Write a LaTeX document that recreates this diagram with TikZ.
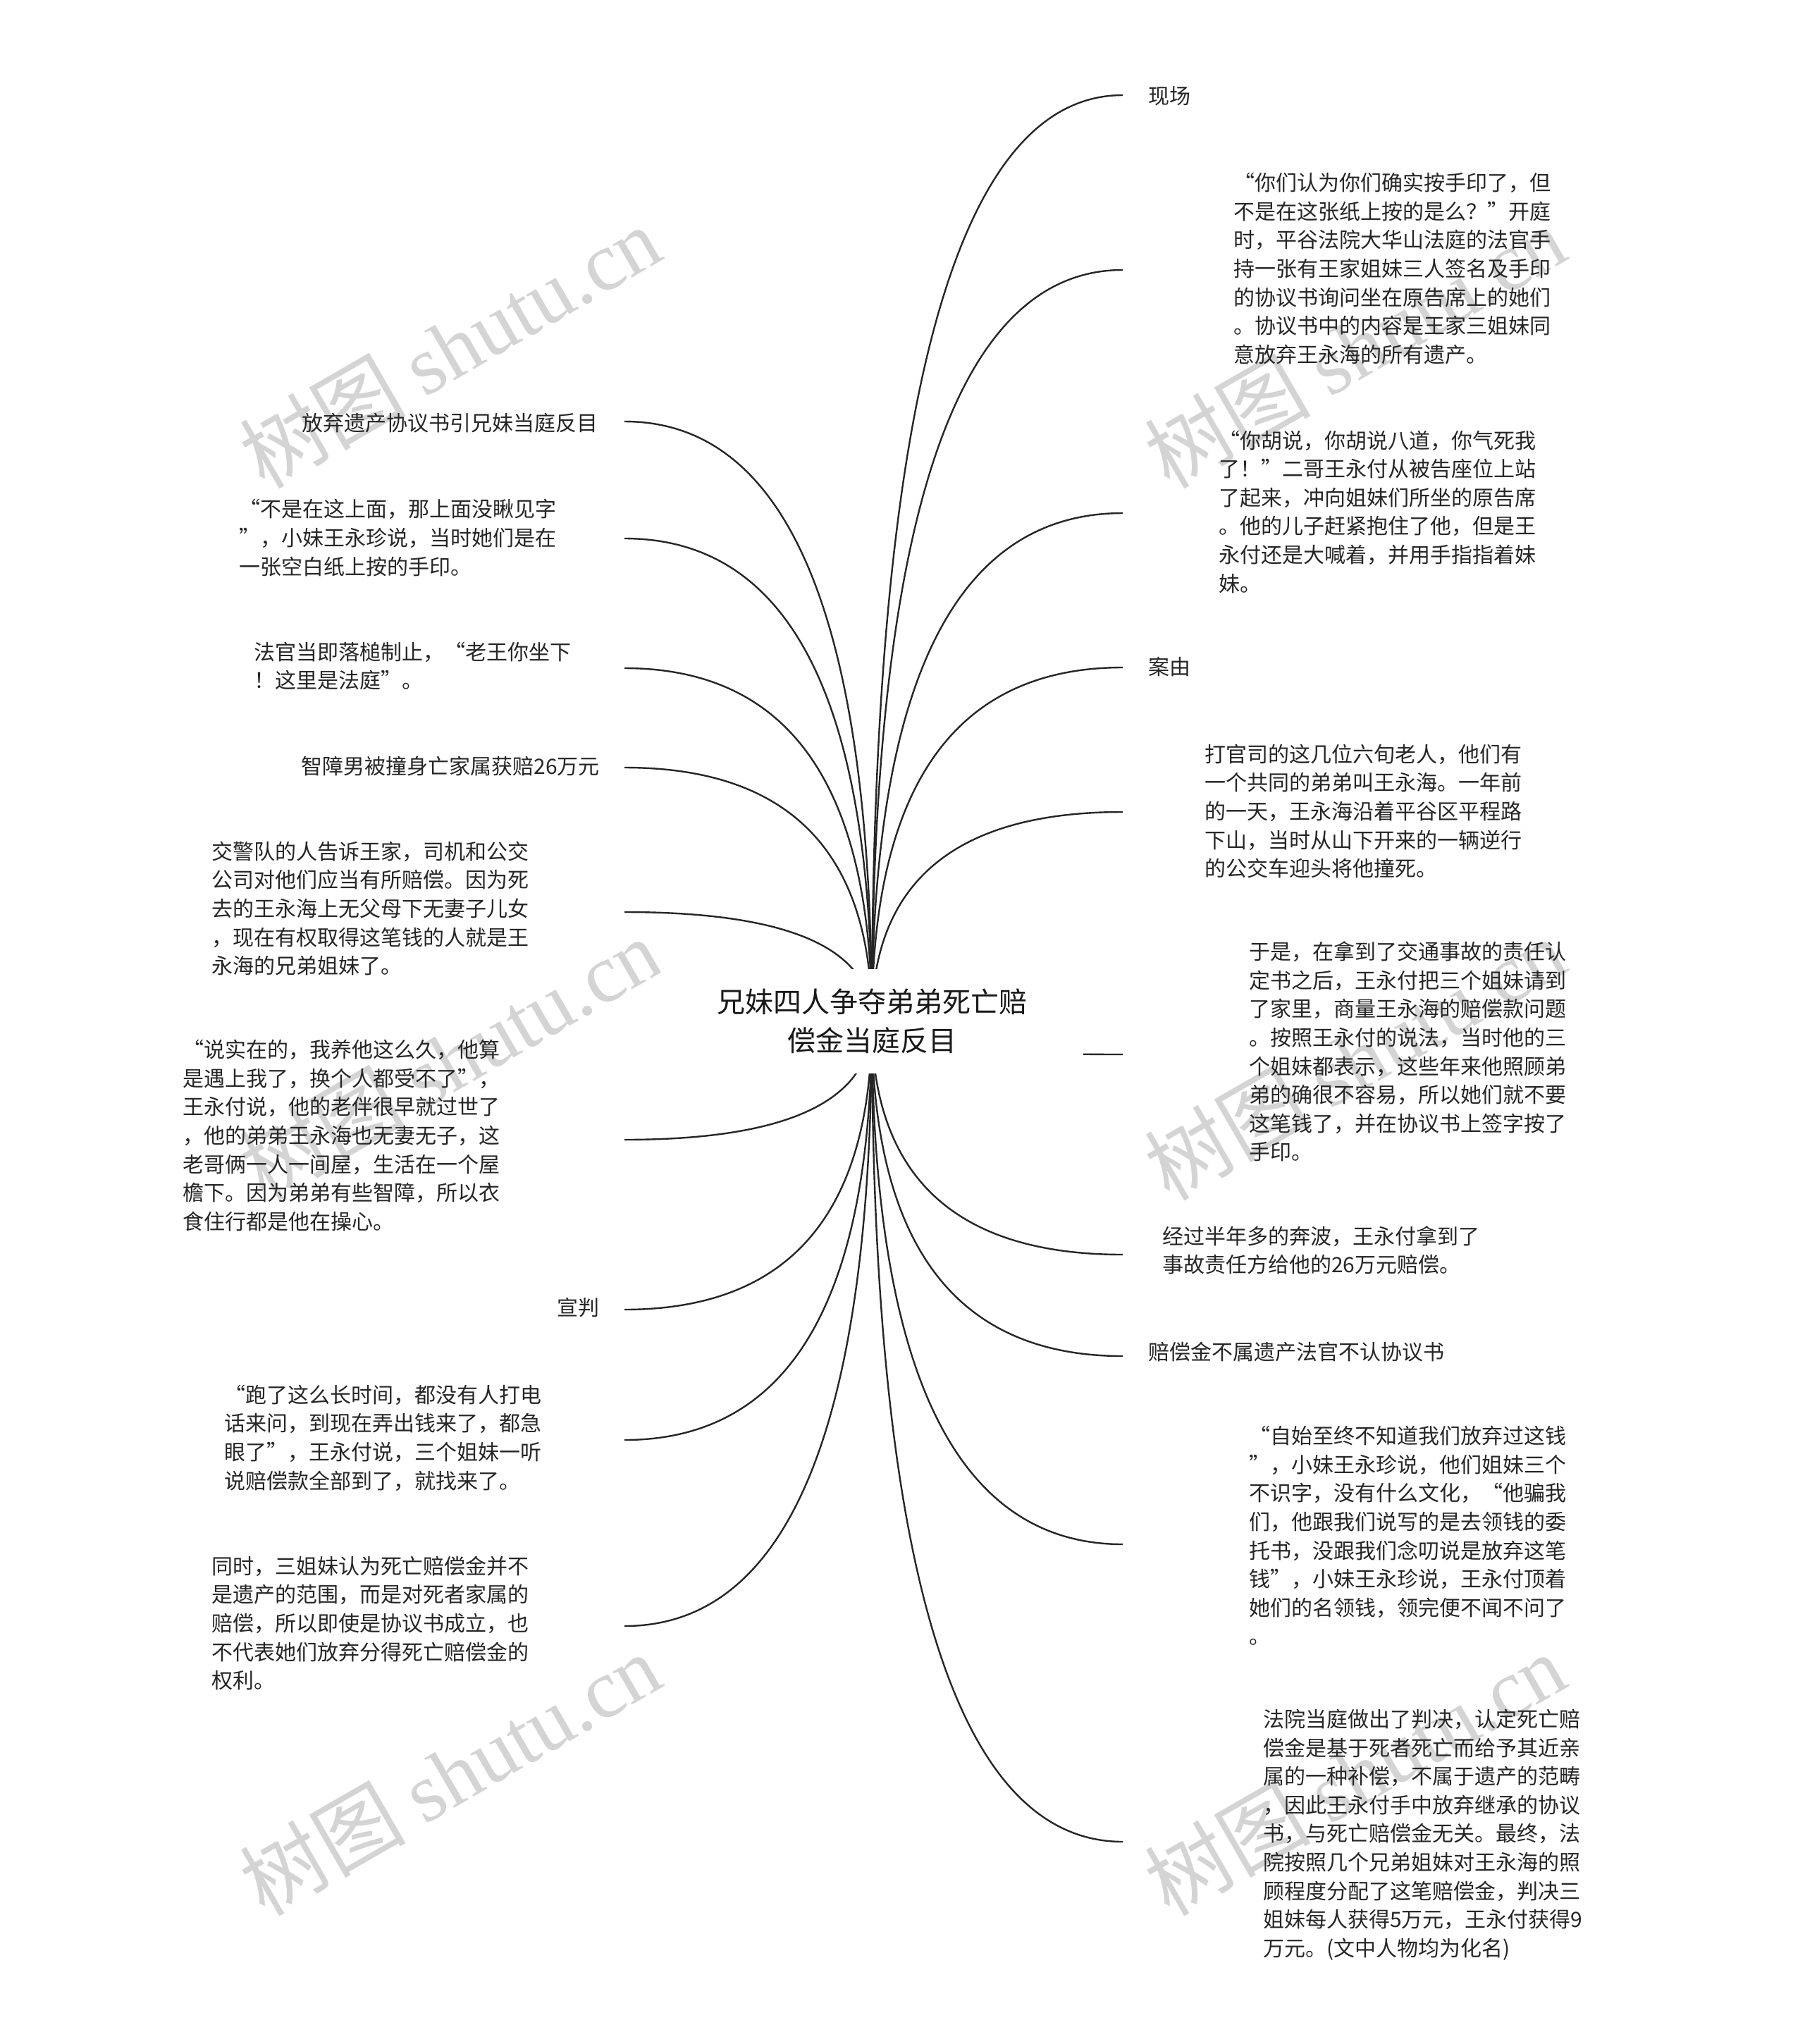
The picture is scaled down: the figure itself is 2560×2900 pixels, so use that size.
\documentclass[tikz,border=0pt]{standalone}
\usepackage{fontspec}
\setmainfont{Noto Sans CJK SC}
\newfontfamily\wmlatin{Liberation Serif}
\usetikzlibrary{calc}
\pgfdeclarelayer{bg}
\pgfsetlayers{bg,main}
\begin{document}
\begin{tikzpicture}[x=1pt,y=-1pt,
  txt/.style={inner sep=0pt, align=left, text=black!85, font=\fontsize{30}{40.6}\selectfont},
  rootbox/.style={inner sep=0pt, align=center, text=black!90, fill=white, minimum width=600pt, minimum height=148pt, font=\fontsize{40}{55}\selectfont},
  conn/.style={line width=2.4pt, draw=black!85},
  wm/.style={text=black!17, rotate=30, inner sep=0pt, font=\fontsize{118}{120}\selectfont}]
\useasboundingbox (0,0) rectangle (2560,2900);

% root
\node[rootbox] (root) at (1237,1449) {兄妹四人争夺弟弟死亡赔\\偿金当庭反目};

% connector end points
\coordinate (r1) at (1593,135);
\coordinate (r2) at (1593,383);
\coordinate (r3) at (1593,728);
\coordinate (r4) at (1593,947);
\coordinate (r5) at (1593,1152);
\coordinate (r6) at (1593,1496);
\coordinate (r7) at (1593,1780);
\coordinate (r8) at (1593,1924);
\coordinate (r9) at (1593,2191);
\coordinate (r10) at (1593,2613);
\coordinate (l1) at (886,598);
\coordinate (l2) at (886,764);
\coordinate (l3) at (886,948);
\coordinate (l4) at (886,1089);
\coordinate (l5) at (886,1294);
\coordinate (l6) at (886,1617);
\coordinate (l7) at (886,1858);
\coordinate (l8) at (886,2043);
\coordinate (l9) at (886,2307);

% right side texts
\node[txt, anchor=west] (t-r1) at (1629,136) {现场};
\node[txt, anchor=west] (t-r2) at (1750,381) {“你们认为你们确实按手印了，但\\不是在这张纸上按的是么？”开庭\\时，平谷法院大华山法庭的法官手\\持一张有王家姐妹三人签名及手印\\的协议书询问坐在原告席上的她们\\。协议书中的内容是王家三姐妹同\\意放弃王永海的所有遗产。};
\node[txt, anchor=west] (t-r3) at (1729,726) {“你胡说，你胡说八道，你气死我\\了！”二哥王永付从被告座位上站\\了起来，冲向姐妹们所坐的原告席\\。他的儿子赶紧抱住了他，但是王\\永付还是大喊着，并用手指指着妹\\妹。};
\node[txt, anchor=west] (t-r4) at (1629,946) {案由};
\node[txt, anchor=west] (t-r5) at (1709,1151) {打官司的这几位六旬老人，他们有\\一个共同的弟弟叫王永海。一年前\\的一天，王永海沿着平谷区平程路\\下山，当时从山下开来的一辆逆行\\的公交车迎头将他撞死。};
\node[txt, anchor=west] (t-r6) at (1772,1492) {于是，在拿到了交通事故的责任认\\定书之后，王永付把三个姐妹请到\\了家里，商量王永海的赔偿款问题\\。按照王永付的说法，当时他的三\\个姐妹都表示，这些年来他照顾弟\\弟的确很不容易，所以她们就不要\\这笔钱了，并在协议书上签字按了\\手印。};
\node[txt, anchor=west] (t-r7) at (1649,1774) {经过半年多的奔波，王永付拿到了\\事故责任方给他的26万元赔偿。};
\node[txt, anchor=west] (t-r8) at (1629,1918) {赔偿金不属遗产法官不认协议书};
\node[txt, anchor=west] (t-r9) at (1772,2179) {“自始至终不知道我们放弃过这钱\\”，小妹王永珍说，他们姐妹三个\\不识字，没有什么文化，“他骗我\\们，他跟我们说写的是去领钱的委\\托书，没跟我们念叨说是放弃这笔\\钱”，小妹王永珍说，王永付顶着\\她们的名领钱，领完便不闻不问了\\。};
\node[txt, anchor=west] (t-r10) at (1792,2603) {法院当庭做出了判决，认定死亡赔\\偿金是基于死者死亡而给予其近亲\\属的一种补偿，不属于遗产的范畴\\，因此王永付手中放弃继承的协议\\书，与死亡赔偿金无关。最终，法\\院按照几个兄弟姐妹对王永海的照\\顾程度分配了这笔赔偿金，判决三\\姐妹每人获得5万元，王永付获得9\\万元。(文中人物均为化名)};

% left side texts
\node[txt, anchor=east] (t-l1) at (849,600) {放弃遗产协议书引兄妹当庭反目};
\node[txt, anchor=west] (t-l2) at (339,763) {“不是在这上面，那上面没瞅见字\\”，小妹王永珍说，当时她们是在\\一张空白纸上按的手印。};
\node[txt, anchor=west] (t-l3) at (360,945) {法官当即落槌制止，“老王你坐下\\！这里是法庭”。};
\node[txt, anchor=east] (t-l4) at (851,1087) {智障男被撞身亡家属获赔26万元};
\node[txt, anchor=west] (t-l5) at (300,1289) {交警队的人告诉王家，司机和公交\\公司对他们应当有所赔偿。因为死\\去的王永海上无父母下无妻子儿女\\，现在有权取得这笔钱的人就是王\\永海的兄弟姐妹了。};
\node[txt, anchor=west] (t-l6) at (259,1611) {“说实在的，我养他这么久，他算\\是遇上我了，换个人都受不了”，\\王永付说，他的老伴很早就过世了\\，他的弟弟王永海也无妻无子，这\\老哥俩一人一间屋，生活在一个屋\\檐下。因为弟弟有些智障，所以衣\\食住行都是他在操心。};
\node[txt, anchor=east] (t-l7) at (851,1855) {宣判};
\node[txt, anchor=west] (t-l8) at (318,2040) {“跑了这么长时间，都没有人打电\\话来问，到现在弄出钱来了，都急\\眼了”，王永付说，三个姐妹一听\\说赔偿款全部到了，就找来了。};
\node[txt, anchor=west] (t-l9) at (300,2303) {同时，三姐妹认为死亡赔偿金并不\\是遗产的范围，而是对死者家属的\\赔偿，所以即使是协议书成立，也\\不代表她们放弃分得死亡赔偿金的\\权利。};

\begin{pgfonlayer}{bg}
  \fill[white] (0,0) rectangle (2560,2900);
  % watermarks
  \foreach \wx/\wy [count=\i] in {638/492,1922/492,638/1502,1922/1502,638/2517,1922/2517}
    \node[wm] (wm\i) at (\wx,\wy) {树图 {\wmlatin shutu.cn}};
  % connectors
  \foreach \e in {r1,r2,r3,r4,r5,r6,r7,r8,r9,r10,l1,l2,l3,l4,l5,l6,l7,l8,l9}
    \draw[conn] (root.center) .. controls ($(root.center)!0.6667!(root.center |- \e)$) and ($(\e)!0.6667!(root.center |- \e)$) .. (\e);
\end{pgfonlayer}
\end{tikzpicture}
\end{document}
